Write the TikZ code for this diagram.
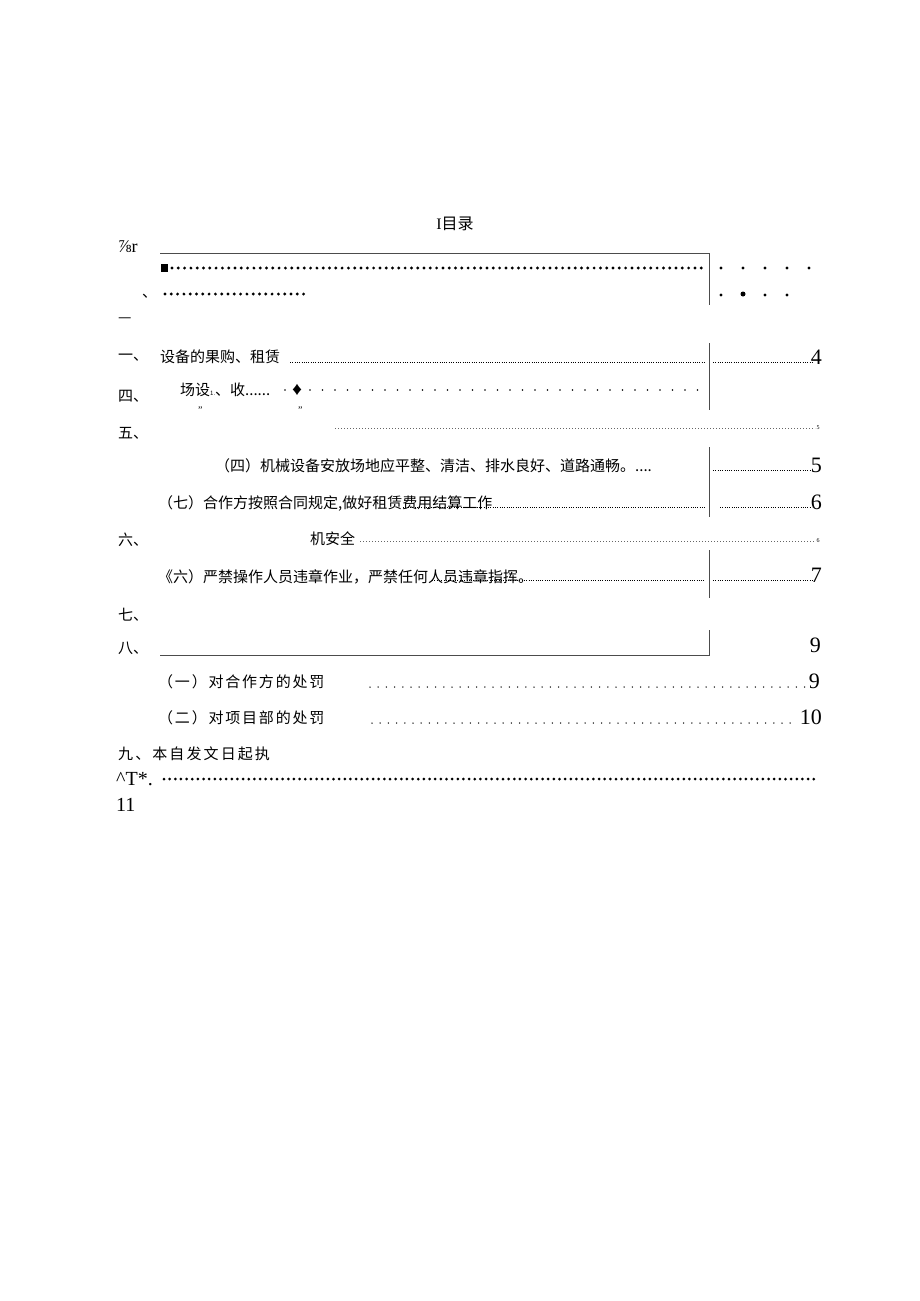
\documentclass[tikz,border=0pt]{standalone}
\usepackage{fontspec}
\setmainfont{Liberation Serif}
\newfontfamily\cjk{Noto Sans CJK SC}
\newcommand\dotrow[1]{\hbox to #1{\xleaders\hbox to 4pt{\hss.\hss}\hfill}}
\begin{document}
\begin{tikzpicture}[x=1pt,y=-1pt,
  txt/.style={inner sep=0pt,anchor=west,font=\cjk\fontsize{15}{15}\selectfont},
  num/.style={inner sep=0pt,anchor=east,font=\fontsize{22}{22}\selectfont},
  rule/.style={draw=black!70,line width=0.8pt},
  fine/.style={line width=1pt,dash pattern=on 1pt off 1.3pt},
  spaced/.style={line width=1.8pt,dash pattern=on 0pt off 12.5pt,line cap=round},
  heavy/.style={line width=3.2pt,dash pattern=on 0pt off 6.3pt,line cap=round},
  gray/.style={line width=0.8pt,dash pattern=on 0.8pt off 2.2pt,draw=black!60}]
\useasboundingbox (0,0) rectangle (920,1301);
% title
\node[inner sep=0pt] (title) at (455,224) {\fontsize{16}{16}\selectfont I\cjk 目录};
\node[inner sep=0pt,anchor=west,font=\fontsize{18}{18}\selectfont] (a0) at (118,247) {⅞r};
% box lines
\draw[rule] (160,253) -- (709,253) -- (709,305);
\draw[rule] (709,343) -- (709,410);
\draw[rule] (709,447) -- (709,517);
\draw[rule] (709,550) -- (709,598);
\draw[rule] (709,630) -- (709,655) -- (160,655);
% row 1
\fill (161,264) rectangle (168,272);
\draw[heavy] (172,268) -- (705,268);
\foreach \x in {721,743,765,787,809} \fill (\x,268) circle (1.6pt);
% row 2
\node[txt] (r2) at (142,296) {、};
\draw[heavy] (165,294) -- (305,294);
\foreach \x in {721,765,787} \fill (\x,295) circle (1.6pt);
\fill (743,294) circle (2.5pt);
\node[txt] (r3) at (118,320) {—};
% row 一
\node[txt] (r4) at (118,358) {一、};
\node[txt] (r4t) at (160,357) {设备的果购、租赁};
\draw[fine] (290,362) -- (705,362);
\draw[fine] (713,362) -- (812,362);
\node[num] (p4) at (822,357) {4};
% row 四
\node[txt] (r5) at (118,396) {四、};
\node[txt] (r5t) at (180,390) {场设\fontsize{6}{6}\selectfont 1.\fontsize{15}{15}\selectfont 、收......};
\node[inner sep=0pt,font=\cjk\fontsize{12}{12}\selectfont] (dia) at (297,390) {♦};
\draw[spaced] (285,390) -- (705,390);
\node[txt,font=\fontsize{10}{10}\selectfont] (q1) at (198,410) {"};
\node[txt,font=\fontsize{10}{10}\selectfont] (q2) at (298,410) {"};
% row 五
\node[txt] (r6) at (118,433) {五、};
\draw[gray] (335,428) -- (815,428);
\node[inner sep=0pt,font=\fontsize{6}{6}\selectfont] (p5a) at (818,428) {5};
% (四)
\node[txt] (r7) at (215,466) {（四）机械设备安放场地应平整、清洁、排水良好、道路通畅。....};
\draw[fine] (713,470) -- (812,470);
\node[num] (p5) at (822,465) {5};
% (七)
\node[txt] (r8) at (158,503) {（七）合作方按照合同规定,做好租赁费用结算工作};
\draw[fine] (403,507) -- (705,507);
\draw[fine] (720,507) -- (812,507);
\node[num] (p6) at (822,502) {6};
% 六
\node[txt] (r9) at (118,540) {六、};
\node[txt] (r9t) at (310,539) {机安全};
\draw[gray] (360,541) -- (815,541);
\node[inner sep=0pt,font=\fontsize{6}{6}\selectfont] (p6a) at (818,541) {6};
% 《六》
\node[txt] (r10) at (158,577) {《六）严禁操作人员违章作业，严禁任何人员违章指挥。};
\draw[fine] (432,580) -- (705,580);
\draw[fine] (713,580) -- (812,580);
\node[num] (p7) at (822,575) {7};
% 七 八
\node[txt] (r11) at (118,615) {七、};
\node[txt] (r12) at (118,648) {八、};
\node[num] (p9a) at (821,645) {9};
% (一)(二)
\node[txt,font=\cjk\fontsize{15}{15}\selectfont\addfontfeatures{LetterSpace=12}] (r13) at (158,682) {（一）对合作方的处罚};
\draw[spaced,line width=1.5pt,dash pattern=on 0pt off 8.2pt] (370,687) -- (805,687);
\node[num] (p9b) at (820,681) {9};
\node[txt,font=\cjk\fontsize{15}{15}\selectfont\addfontfeatures{LetterSpace=12}] (r14) at (158,718) {（二）对项目部的处罚};
\draw[spaced,line width=1.5pt,dash pattern=on 0pt off 8.2pt] (372,723) -- (795,723);
\node[num] (p10) at (822,717) {10};
\node[txt,font=\cjk\fontsize{15}{15}\selectfont\addfontfeatures{LetterSpace=14}] (r15) at (118,754) {九、本自发文日起执};
\node[txt,font=\fontsize{20}{20}\selectfont] (r16) at (116,779) {\^{}T*.};
\draw[heavy,line width=3pt,dash pattern=on 0pt off 5.65pt] (164,779) -- (819,779);
\node[txt,font=\fontsize{20}{20}\selectfont] (r17) at (116,805) {11};
\end{tikzpicture}
\end{document}
